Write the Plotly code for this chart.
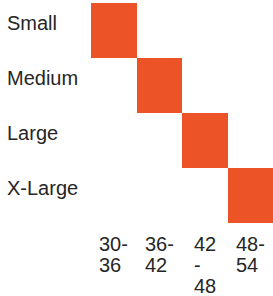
import plotly.graph_objects as go

sizes = ["Small", "Medium", "Large", "X-Large"]
ranges = ["30-36", "36-42", "42-48", "48-54"]
# tick label lines for each range, as wrapped in the reference
range_lines = [["30-", "36"], ["36-", "42"], ["42", "-", "48"], ["48-", "54"]]
# 1 marks the size/range pairing, None leaves the cell empty
match = [
    [1, None, None, None],
    [None, 1, None, None],
    [None, None, 1, None],
    [None, None, None, 1],
]

W, H = 273, 296
ML, MR, MT, MB = 91, 0, 3, 73
FONT = "Liberation Sans, Arial, sans-serif"
FS = 20
TXT = "#262626"
FILL = "#EC5428"
LINE_GAP = 21


def est_width(s):
    return sum(0.556 if c.isdigit() else 0.333 for c in s) * FS


fig = go.Figure(
    go.Heatmap(
        z=match,
        x=ranges,
        y=sizes,
        colorscale=[[0, FILL], [1, FILL]],
        zmin=0,
        zmax=1,
        showscale=False,
        hoverinfo="skip",
    )
)

plot_w = W - ML - MR
annotations = []
for s in sizes:
    annotations.append(
        dict(
            x=(5 - ML) / plot_w,
            xref="paper",
            y=s,
            yref="y",
            text=s,
            showarrow=False,
            xanchor="left",
            yanchor="middle",
            yshift=8,
            font=dict(family=FONT, size=FS, color=TXT),
        )
    )

for r, lines in zip(ranges, range_lines):
    block = max(est_width(t) for t in lines)
    for i, t in enumerate(lines):
        annotations.append(
            dict(
                x=r,
                xref="x",
                y=0,
                yref="paper",
                text=t,
                showarrow=False,
                xanchor="left",
                yanchor="middle",
                xshift=-block / 2 - 2,
                yshift=-(21 + i * LINE_GAP),
                font=dict(family=FONT, size=FS, color=TXT),
            )
        )

fig.update_layout(
    width=W,
    height=H,
    margin=dict(l=ML, r=MR, t=MT, b=MB),
    paper_bgcolor="white",
    plot_bgcolor="white",
    annotations=annotations,
    xaxis=dict(
        showticklabels=False,
        showgrid=False,
        zeroline=False,
        showline=False,
        ticks="",
        fixedrange=True,
    ),
    yaxis=dict(
        autorange="reversed",
        showticklabels=False,
        showgrid=False,
        zeroline=False,
        showline=False,
        ticks="",
        fixedrange=True,
    ),
)

fig.write_html(
    "out.html",
    config={"displayModeBar": False},
    post_script="document.body.style.margin='0';",
)
